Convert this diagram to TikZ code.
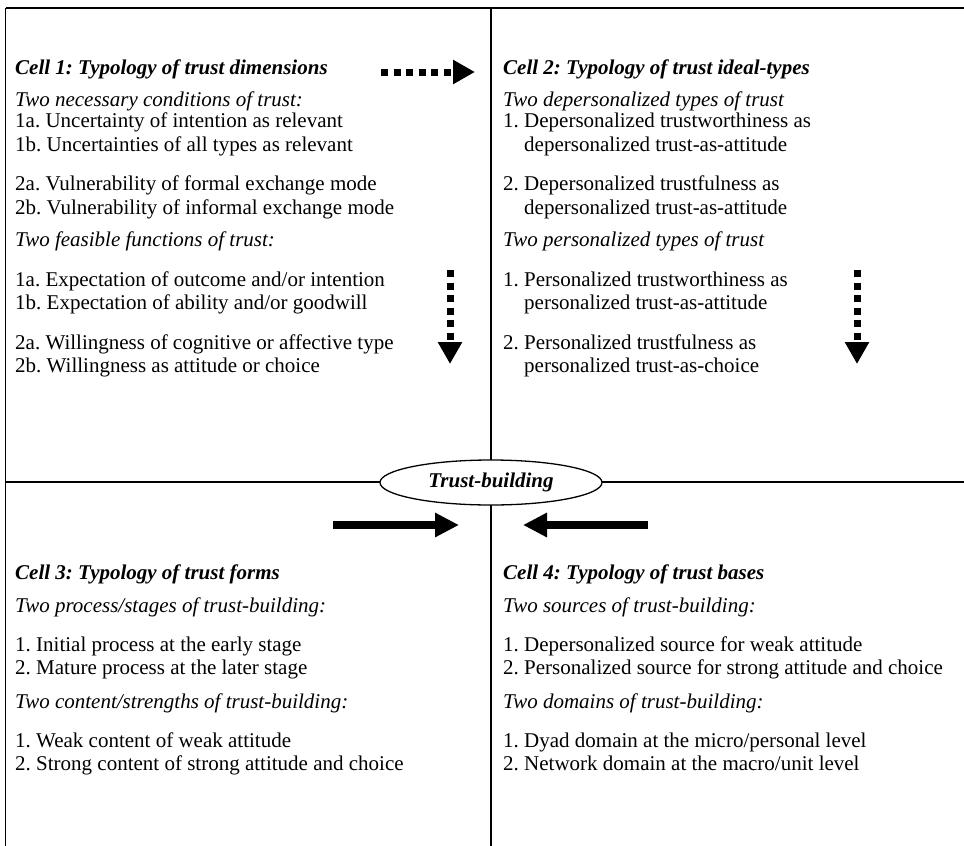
\documentclass[tikz,border=0pt]{standalone}
\usepackage{fontspec}
\setmainfont{Liberation Serif}
\usetikzlibrary{arrows.meta,shapes.geometric}
\frenchspacing
\begin{document}
\begin{tikzpicture}[x=1pt,y=-1pt,
  base/.style={anchor=base west,inner sep=0pt,font=\fontsize{21}{24}\selectfont},
  txt/.style={base},
  ttl/.style={base,font=\fontsize{21}{24}\selectfont\bfseries\itshape},
  sub/.style={base,font=\fontsize{21}{24}\selectfont\itshape},
  frame/.style={line width=1.3pt},
  dotarrow/.style={line width=7pt,dash pattern=on 7pt off 5.5pt,-{Triangle[length=22pt,width=23pt]}},
  solidarrow/.style={line width=8pt,-{Triangle[length=24pt,width=23pt]}},
  hub/.style={ellipse,draw,line width=1.3pt,fill=white,minimum width=222pt,minimum height=45pt,inner sep=0pt,font=\fontsize{21}{24}\selectfont\bfseries\itshape}
]
\useasboundingbox (0,0) rectangle (964,846);
% frame coordinates
\coordinate (tl) at (5.5,8);
\coordinate (tr) at (964,8);
\coordinate (bl) at (5.5,846);
\coordinate (tm) at (491,8);
\coordinate (bm) at (491,846);
\coordinate (ml) at (5.5,482);
\coordinate (mr) at (964,482);
\draw[frame] (tl) -- (tr);
\draw[frame] (tl) -- (bl);
\draw[frame] (tm) -- (bm);
\draw[frame] (ml) -- (mr);
\node[hub] (tb) at (491,482.5) {Trust-building};

% Cell 1
\def\xa{15}
\node[ttl] (c1t) at (\xa,74) {Cell 1: Typology of trust dimensions};
\node[sub] (c1s1) at (\xa,106) {Two necessary conditions of trust:};
\node[txt] (c1a) at (\xa,127) {1a. Uncertainty of intention as relevant};
\node[txt] (c1b) at (\xa,151) {1b. Uncertainties of all types as relevant};
\node[txt] (c1c) at (\xa,190) {2a. Vulnerability of formal exchange mode};
\node[txt] (c1d) at (\xa,214) {2b. Vulnerability of informal exchange mode};
\node[sub] (c1s2) at (\xa,246) {Two feasible functions of trust:};
\node[txt] (c1e) at (\xa,286) {1a. Expectation of outcome and/or intention};
\node[txt] (c1f) at (\xa,309) {1b. Expectation of ability and/or goodwill};
\node[txt] (c1g) at (\xa,349) {2a. Willingness of cognitive or affective type};
\node[txt] (c1h) at (\xa,372) {2b. Willingness as attitude or choice};

% Cell 2
\def\xb{503}
\def\xc{524}
\node[ttl] (c2t) at (\xb,74) {Cell 2: Typology of trust ideal-types};
\node[sub] (c2s1) at (\xb,106) {Two depersonalized types of trust};
\node[txt] (c2a) at (\xb,127) {1. Depersonalized trustworthiness as};
\node[txt] (c2b) at (\xc,151) {depersonalized trust-as-attitude};
\node[txt] (c2c) at (\xb,190) {2. Depersonalized trustfulness as};
\node[txt] (c2d) at (\xc,214) {depersonalized trust-as-attitude};
\node[sub] (c2s2) at (\xb,246) {Two personalized types of trust};
\node[txt] (c2e) at (\xb,286) {1. Personalized trustworthiness as};
\node[txt] (c2f) at (\xc,309) {personalized trust-as-attitude};
\node[txt] (c2g) at (\xb,349) {2. Personalized trustfulness as};
\node[txt] (c2h) at (\xc,372) {personalized trust-as-choice};

% Cell 3
\node[ttl] (c3t) at (\xa,579) {Cell 3: Typology of trust forms};
\node[sub] (c3s1) at (\xa,612) {Two process/stages of trust-building:};
\node[txt] (c3a) at (\xa,651) {1. Initial process at the early stage};
\node[txt] (c3b) at (\xa,674) {2. Mature process at the later stage};
\node[sub] (c3s2) at (\xa,708) {Two content/strengths of trust-building:};
\node[txt] (c3c) at (\xa,747) {1. Weak content of weak attitude};
\node[txt] (c3d) at (\xa,770) {2. Strong content of strong attitude and choice};

% Cell 4
\node[ttl] (c4t) at (\xb,579) {Cell 4: Typology of trust bases};
\node[sub] (c4s1) at (\xb,612) {Two sources of trust-building:};
\node[txt] (c4a) at (\xb,651) {1. Depersonalized source for weak attitude};
\node[txt] (c4b) at (\xb,674) {2. Personalized source for strong attitude and choice};
\node[sub] (c4s2) at (\xb,708) {Two domains of trust-building:};
\node[txt] (c4c) at (\xb,747) {1. Dyad domain at the micro/personal level};
\node[txt] (c4d) at (\xb,770) {2. Network domain at the macro/unit level};

% arrows
\coordinate (d1s) at (381,72);
\coordinate (d1e) at (475,72);
\draw[dotarrow] (d1s) -- (d1e);
\coordinate (d2s) at (450,270);
\coordinate (d2e) at (450,364);
\draw[dotarrow] (d2s) -- (d2e);
\coordinate (d3s) at (857,270);
\coordinate (d3e) at (857,364);
\draw[dotarrow] (d3s) -- (d3e);
\coordinate (s1s) at (333,525);
\coordinate (s1e) at (459,525);
\draw[solidarrow] (s1s) -- (s1e);
\coordinate (s2s) at (648,525);
\coordinate (s2e) at (523,525);
\draw[solidarrow] (s2s) -- (s2e);
\end{tikzpicture}
\end{document}
